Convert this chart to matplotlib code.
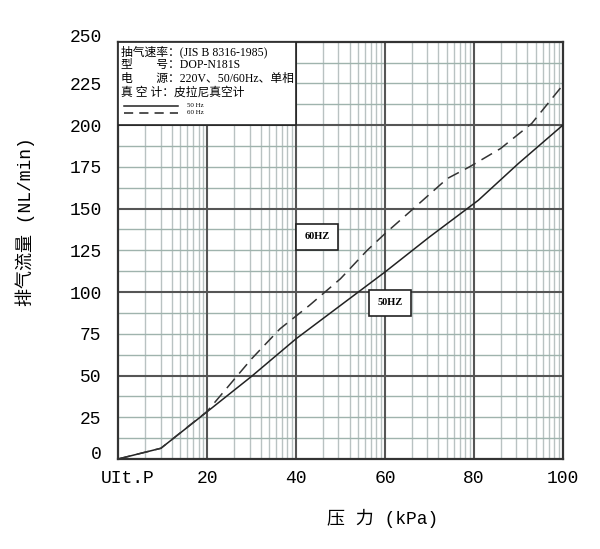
import numpy as np
import matplotlib
matplotlib.use("Agg")
import matplotlib.pyplot as plt
from matplotlib.patches import Rectangle
import matplotlib.transforms as mtrans

# ---- data
p_50 = [0, 9.6, 20, 30, 40, 50, 60, 70, 81, 90, 100]
q_50 = [0, 6.4, 28.3, 49.5, 72, 92, 112, 133, 155, 177, 200]

p_60 = [0, 9.6, 20, 30, 36.4, 43, 50, 56, 60, 66.4, 74, 79, 86, 93, 100]
q_60 = [0, 6.4, 28.5, 60, 78, 92, 108, 125, 135, 150, 168, 175, 186, 201, 224]

xticks = [0, 20, 40, 60, 80, 100]
xtick_labels = ["UIt.P", "20", "40", "60", "80", "100"]
yticks = [0, 25, 50, 75, 100, 125, 150, 175, 200, 225, 250]

info_lines = ["抽气速率：(JIS B 8316-1985)",
              "型　　号：DOP-N181S",
              "电　　源：220V、50/60Hz、单相",
              "真 空 计：皮拉尼真空计"]

NUM = "Liberation Mono"
SERIF_CJK = ["Liberation Serif", "Noto Sans CJK SC"]
MONO_CJK = [NUM, "Noto Sans CJK SC"]

fig = plt.figure(figsize=(6.0, 5.49), dpi=100)
ax = fig.add_axes([0.197, 0.164, 0.741, 0.76])
ax.set_xlim(0, 100)
ax.set_ylim(0, 250)

# ---- grid (log-style minor lines inside each 20 kPa block)
for seg in range(0, 100, 20):
    for k in range(2, 10):
        ax.axvline(seg + 20 * np.log10(k), color="#b9c2c2", lw=1.0, zorder=1)
for yv in np.arange(12.5, 250, 12.5):
    if yv % 50:
        ax.axhline(yv, color="#9fb3ad", lw=1.0, zorder=1)
for xv in [20, 40, 60, 80]:
    ax.axvline(xv, color="#555555", lw=1.5, zorder=2)
for yv in [50, 100, 150, 200]:
    ax.axhline(yv, color="#555555", lw=1.5, zorder=2)

for s in ax.spines.values():
    s.set_color("#333333")
    s.set_linewidth(1.6)

# ---- curves
ax.plot(p_50, q_50, color="#222222", lw=1.1, zorder=4)
ax.plot(p_60, q_60, color="#333333", lw=1.1, dashes=(8, 4.5), zorder=4)

# ---- info box
ax.add_patch(Rectangle((0, 200), 40, 50, facecolor="white", edgecolor="#222222",
                       lw=1.2, zorder=5))
for i, t in enumerate(info_lines):
    ax.text(0.7, 244 - i * 8.1, t, fontsize=8.5, family=SERIF_CJK, va="center",
            ha="left", zorder=6)
ax.plot([1.4, 13.5], [211.5, 211.5], color="#222222", lw=1.1, zorder=6)
ax.plot([1.4, 13.5], [207.3, 207.3], color="#222222", lw=1.1, dashes=(6, 4), zorder=6)
ax.text(15.5, 211.5, "50 Hz", fontsize=5, family="Liberation Serif", va="center", zorder=6)
ax.text(15.5, 207.3, "60 Hz", fontsize=5, family="Liberation Serif", va="center", zorder=6)

# ---- curve tags
box = dict(boxstyle="square,pad=0.8", facecolor="white", edgecolor="#222222", lw=1.2)
ax.text(44.8, 133, "60HZ", fontsize=7.5, family="Liberation Serif", weight="bold",
        ha="center", va="center", bbox=box, zorder=6)
ax.text(61.1, 93.5, "50HZ", fontsize=7.5, family="Liberation Serif", weight="bold",
        ha="center", va="center", bbox=box, zorder=6)

# ---- ticks
ax.set_xticks(xticks)
ax.set_xticklabels(xtick_labels, family=NUM, fontsize=13)
ax.set_yticks(yticks)
ax.set_yticklabels([str(v) for v in yticks], family=NUM, fontsize=13)
ax.tick_params(axis="y", length=0, pad=12)
ax.tick_params(axis="x", length=0, pad=8)
xl = ax.get_xticklabels()
xl[0].set_transform(xl[0].get_transform() + mtrans.ScaledTranslation(9/100, 0, fig.dpi_scale_trans))
yl = ax.get_yticklabels()
for lab in (yl[0], yl[-1]):
    lab.set_transform(lab.get_transform() + mtrans.ScaledTranslation(0, 6/100, fig.dpi_scale_trans))

fig.text(25/600, 1 - 222/549, "排气流量 (NL/min)", rotation=90, fontsize=13,
         family=MONO_CJK, ha="center", va="center")
fig.text(383/600, 1 - 518/549, "压 力 (kPa)", fontsize=13,
         family=MONO_CJK, ha="center", va="center")

fig.savefig("out.png", dpi=100, facecolor="white")
